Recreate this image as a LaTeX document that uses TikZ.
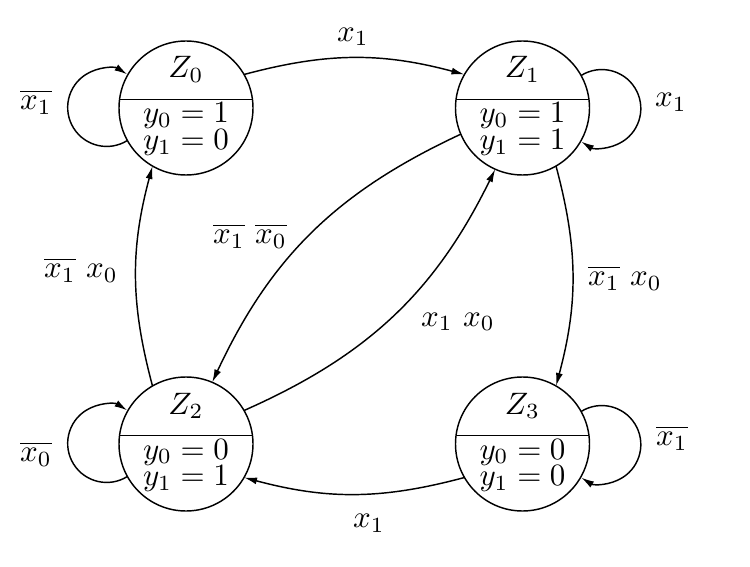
\documentclass[tikz,border=0pt]{standalone}
\usetikzlibrary{arrows.meta}
\tikzset{
  state/.style={circle, draw, minimum size=134pt, inner sep=0pt, outer sep=0pt},
  txt/.style={inner sep=0pt, scale=3.1},
  rowtxt/.style={inner sep=0pt, scale=3.1, anchor=base},
  edge/.style={-{Latex[length=13pt,width=7pt]}},
}
\begin{document}
\begin{tikzpicture}[x=1pt,y=1pt,line width=1.45pt]
\useasboundingbox (0,0) rectangle (750,566);
% states
\node[state] (Z0) at (186,458) {};
\node[state] (Z1) at (522.5,458) {};
\node[state] (Z2) at (186,122) {};
\node[state] (Z3) at (522.5,122) {};
\foreach \s in {Z0,Z1,Z2,Z3}{\draw ([shift={(-66.5,8.5)}]\s.center) -- ([shift={(66.5,8.5)}]\s.center);}
% state texts
\node[rowtxt] (Z0n) at (186,488) {$Z_0$};
\node[rowtxt] (Z0a) at (186,443) {$y_0=1$};
\node[rowtxt] (Z0b) at (186,416.5) {$y_1=0$};
\node[rowtxt] (Z1n) at (522.5,488) {$Z_1$};
\node[rowtxt] (Z1a) at (522.5,443) {$y_0=1$};
\node[rowtxt] (Z1b) at (522.5,416.5) {$y_1=1$};
\node[rowtxt] (Z2n) at (186,152) {$Z_2$};
\node[rowtxt] (Z2a) at (186,107) {$y_0=0$};
\node[rowtxt] (Z2b) at (186,80.5) {$y_1=1$};
\node[rowtxt] (Z3n) at (522.5,152) {$Z_3$};
\node[rowtxt] (Z3a) at (522.5,107) {$y_0=0$};
\node[rowtxt] (Z3b) at (522.5,80.5) {$y_1=0$};
% loops
\draw[edge] (Z0.209.5) arc[start angle=-57.9, end angle=-302.1, radius=39];
\draw[edge] (Z1.29.5) arc[start angle=122.1, end angle=-122.1, radius=39];
\draw[edge] (Z2.209.5) arc[start angle=-57.9, end angle=-302.1, radius=39];
\draw[edge] (Z3.29.5) arc[start angle=122.1, end angle=-122.1, radius=39];
\node[txt] (l0) at (36,464) {$\overline{x_1}$};
\node[txt] (l1) at (671,463.5) {$x_1$};
\node[txt] (l2) at (36,112) {$\overline{x_0}$};
\node[txt] (l3) at (672,128) {$\overline{x_1}$};
% transitions
\draw[edge] (Z0.30) to[bend left=15] (Z1.150);
\draw[edge] (Z1.300) to[bend left=15] (Z3.60);
\draw[edge] (Z3.210) to[bend left=15] (Z2.330);
\draw[edge] (Z2.120) to[bend left=15] (Z0.240);
\draw[edge] (Z1.203) to[bend right=20] (Z2.67);
\draw[edge] (Z2.30) to[bend right=20] (Z1.246);
\node[txt] (e01) at (353,529) {$x_1$};
\node[txt] (e13) at (625,288) {$\overline{x_1}\ x_0$};
\node[txt] (e32) at (369,43) {$x_1$};
\node[txt] (e20) at (81,296) {$\overline{x_1}\ x_0$};
\node[txt] (e12) at (250,330) {$\overline{x_1}\ \overline{x_0}$};
\node[txt] (e21) at (458,244) {$x_1\ x_0$};
\end{tikzpicture}
\end{document}
